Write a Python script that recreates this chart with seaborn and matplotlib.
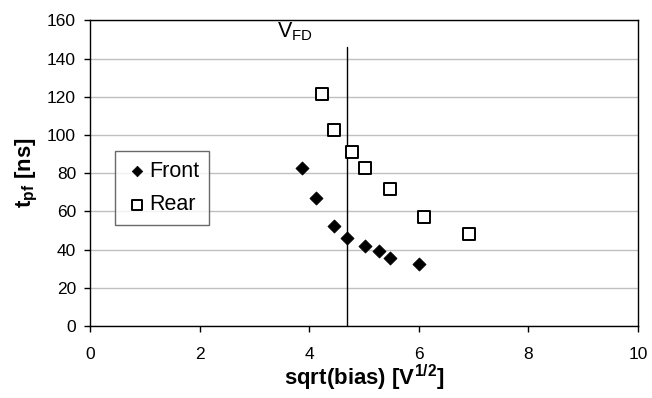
import matplotlib
matplotlib.use("Agg")
import matplotlib.pyplot as plt
import seaborn as sns
import pandas as pd

front_x = [3.87, 4.13, 4.46, 4.69, 5.01, 5.28, 5.47, 6.00]
front_y = [82.8, 66.8, 52.5, 45.9, 42.1, 39.3, 35.7, 32.7]
rear_x = [4.23, 4.46, 4.78, 5.01, 5.47, 6.10, 6.92]
rear_y = [121.3, 102.5, 91.2, 82.8, 71.5, 57.2, 48.0]
v_fd = 4.69
v_fd_top = 146
x_ticks = [0, 2, 4, 6, 8, 10]
y_ticks = [0, 20, 40, 60, 80, 100, 120, 140, 160]

sns.set_theme(style="white")
plt.rcParams['font.family'] = ['Liberation Sans', 'DejaVu Sans']
plt.rcParams['text.color'] = 'black'
plt.rcParams['axes.labelcolor'] = 'black'

df = pd.DataFrame({
    "x": front_x + rear_x,
    "y": front_y + rear_y,
    "series": ["Front"] * len(front_x) + ["Rear"] * len(rear_x),
})

fig = plt.figure(figsize=(6.52, 3.98), dpi=100)
ax = fig.add_axes([0.138, 0.181, 0.8405, 0.7677])

ax.yaxis.grid(True, color="#c0c0c0", linewidth=1.0)
ax.set_axisbelow(True)

sns.scatterplot(data=df[df.series == "Front"], x="x", y="y", ax=ax,
                marker="D", s=45, color="black", edgecolor="black",
                linewidth=0.5, label="Front", zorder=3)
sns.scatterplot(data=df[df.series == "Rear"], x="x", y="y", ax=ax,
                marker="s", s=75, facecolor="white", edgecolor="black",
                linewidth=1.4, label="Rear", zorder=3)

ax.plot([v_fd, v_fd], [0, v_fd_top], color="black", linewidth=1.0, zorder=2)
ax.text(3.42, 151, r"V$_{\mathregular{FD}}$", fontsize=15.5, ha="left",
        va="baseline", color="black")

ax.set_xlim(0, 10)
ax.set_ylim(0, 160)
ax.set_xticks(x_ticks)
ax.set_yticks(y_ticks)
ax.tick_params(axis="both", direction="out", length=4, width=1, colors="black",
               labelsize=12.5, bottom=True, left=True)
ax.tick_params(axis="x", pad=11)
ax.tick_params(axis="y", pad=6)
for s in ax.spines.values():
    s.set_color("black")
    s.set_linewidth(1.0)

ax.set_xlabel(r"sqrt(bias) [V$^{\mathregular{1/2}}$]", fontsize=16,
              fontweight="bold", labelpad=1, color="black")
ax.set_ylabel(r"t$_{\mathregular{pf}}$ [ns]", fontsize=16,
              fontweight="bold", labelpad=5, color="black")

leg = ax.legend(loc="lower left", bbox_to_anchor=(0.046, 0.33), fontsize=15.5,
                frameon=True, fancybox=False, edgecolor="#444444",
                handletextpad=0.05, borderpad=0.45, labelspacing=0.6,
                handlelength=1.1, borderaxespad=0, markerscale=0.8)
leg.get_frame().set_linewidth(1.0)
for t in leg.get_texts():
    t.set_color("black")

fig.savefig("out.png", dpi=100)
